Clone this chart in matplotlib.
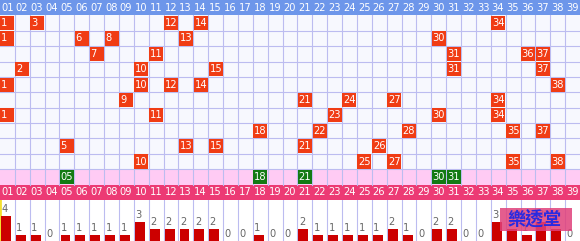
import matplotlib.pyplot as plt
from matplotlib.patches import Rectangle

# numbers 01..39, last 10 draws (oldest at top)
numbers = list(range(1, 40))
draws = [
    [1, 3, 12, 14, 34],
    [1, 6, 8, 13, 30],
    [7, 11, 31, 36, 37],
    [2, 10, 15, 31, 37],
    [1, 10, 12, 14, 38],
    [9, 21, 24, 27, 34],
    [1, 11, 23, 30, 34],
    [18, 22, 28, 35, 37],
    [5, 13, 15, 21, 26],
    [10, 25, 27, 35, 38],
]
hits = [5, 18, 21, 30, 31]
counts = [4, 1, 1, 0, 1, 1, 1, 1, 1, 3, 2, 2, 2, 2, 2, 0, 0, 1, 0, 0,
          2, 1, 1, 1, 1, 1, 2, 1, 0, 2, 2, 0, 0, 3, 2, 1, 3, 2, 0]

ncol = len(numbers)
nrows = len(draws) + 3      # header + draws + pick row + header
red = '#f03c14'
grid_c = '#bcbcf0'
fs = 7.1

fig = plt.figure(figsize=(5.8, 2.41), dpi=100)
top = fig.add_axes([0, 41/241, 1, 200/241])
bot = fig.add_axes([0, 0, 1, 41/241])
for ax in (top, bot):
    ax.set_axis_off()
    ax.set_xlim(0, ncol)

top.set_ylim(nrows, 0)
# backgrounds
top.add_patch(Rectangle((0, 0), ncol, 1, color='#6d96ea', lw=0))
top.add_patch(Rectangle((0, 1), ncol, len(draws), color='#f7f8fe', lw=0))
top.add_patch(Rectangle((0, len(draws) + 1), ncol, 1, color='#ffcbf4', lw=0))
top.add_patch(Rectangle((0, len(draws) + 2), ncol, 1, color='#ec3a74', lw=0))

# grid
for i in range(1, ncol):
    top.plot([i, i], [1, len(draws) + 2], color=grid_c, lw=0.8, zorder=1)
for r in range(2, len(draws) + 2):
    top.plot([0, ncol], [r, r], color=grid_c, lw=0.8, zorder=1)

# header labels
for i, n in enumerate(numbers):
    lab = '%02d' % n
    top.text(i + 0.06, 0.5, lab, color='white', fontsize=fs, ha='left', va='center')
    top.text(i + 0.06, nrows - 0.5, lab, color='white', fontsize=fs, ha='left', va='center')

# draw cells
for r, row in enumerate(draws):
    for n in row:
        top.add_patch(Rectangle((n - 1 + 0.03, r + 1 + 0.04), 0.94, 0.92,
                                color=red, lw=0, zorder=2))
        top.text(n - 1 + 0.08, r + 1.5, str(n), color='white', fontsize=fs,
                 ha='left', va='center', zorder=3)

# pick row
r = len(draws) + 1
for n in hits:
    top.add_patch(Rectangle((n - 1 + 0.03, r + 0.04), 0.94, 0.92,
                            color='#137a13', lw=0, zorder=2))
    top.text(n - 1 + 0.08, r + 0.5, '%02d' % n, color='white', fontsize=fs,
             ha='left', va='center', zorder=3)

# frequency bars
bot.set_ylim(0, 41/6.25)
for i in range(1, ncol):
    bot.axvline(i, color=grid_c, lw=0.8, zorder=0)
bot.axvline(0.02, color='#f4e030', lw=2, zorder=1)
bot.bar([i + 0.07 for i in range(ncol)], counts, width=0.67, align='edge',
        color='#cc0000', zorder=2)
for i, c in enumerate(counts):
    bot.text(i + 0.1, c + 0.3, str(c), color='#666666', fontsize=fs,
             ha='left', va='bottom', zorder=3)

# watermark
fig.patches.append(Rectangle((500/580, 10/241), 72/580, 23/241,
                             transform=fig.transFigure, color='#e0407a',
                             alpha=0.85, lw=0, zorder=5))
fig.text(535/580, 21.5/241, '樂透堂', color='#2a2ae0', fontsize=13,
         family=['Noto Sans CJK TC', 'DejaVu Sans'], weight='bold',
         ha='center', va='center', zorder=6)

fig.savefig('out.png', dpi=100)
